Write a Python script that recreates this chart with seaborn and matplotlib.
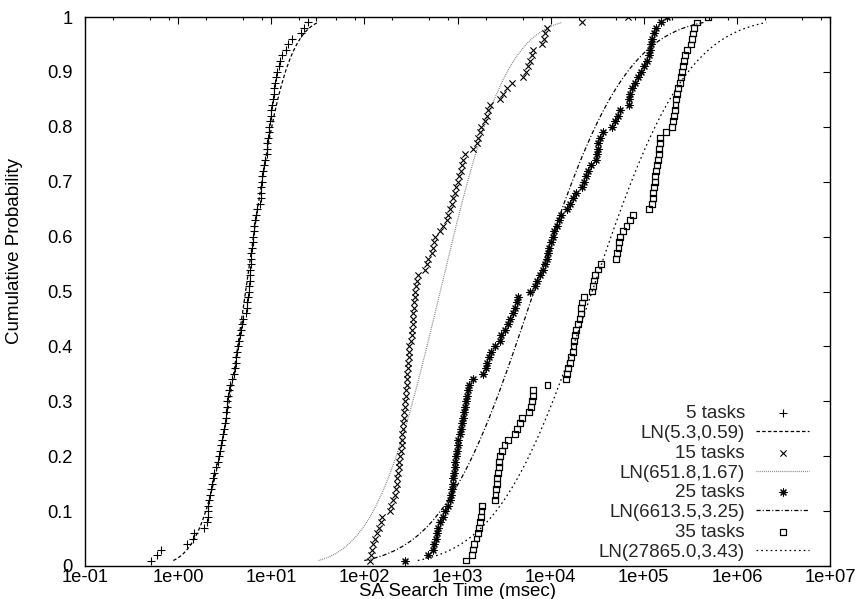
import numpy as np
import pandas as pd
import matplotlib
matplotlib.use("Agg")
import matplotlib.pyplot as plt
import seaborn as sns
from matplotlib.ticker import FixedLocator, FixedFormatter, LogLocator, NullFormatter
from statistics import NormalDist

# ---- data (msec); cumulative probability = rank / n ----
tasks_5 = [0.51, 0.60, 0.65, 1.26, 1.46, 1.47, 1.90, 2.05, 2.07, 2.08,
           2.10, 2.15, 2.20, 2.25, 2.30, 2.35, 2.45, 2.55, 2.65, 2.75,
           2.82, 2.90, 2.98, 3.05, 3.12, 3.18, 3.24, 3.28, 3.32, 3.36,
           3.40, 3.48, 3.58, 3.75, 3.95, 4.05, 4.15, 4.22, 4.30, 4.40,
           4.50, 4.62, 4.75, 4.85, 4.95, 5.35, 5.45, 5.55, 5.65, 5.75,
           5.80, 5.85, 5.90, 5.95, 6.00, 6.05, 6.10, 6.20, 6.30, 6.40,
           6.50, 6.60, 6.75, 6.90, 7.10, 7.60, 7.70, 7.80, 7.85, 7.95,
           8.05, 8.20, 8.35, 8.55, 8.90, 9.00, 9.10, 9.25, 9.40, 9.55,
           9.70, 9.85, 10.0, 10.2, 10.4, 10.6, 10.8, 11.0, 11.3, 11.6,
           12.0, 12.4, 13.0, 14.3, 15.2, 16.5, 21.0, 22.5, 25.0, 30.5]

tasks_15 = [115, 117, 120, 124, 130, 137, 143, 150, 156, 189,
            195, 203, 214, 218, 222, 226, 230, 234, 238, 242,
            250, 252, 254, 256, 258, 261, 264, 267, 270, 272,
            280, 283, 286, 288, 290, 293, 296, 299, 302, 305,
            320, 323, 326, 329, 332, 336, 340, 344, 348, 353,
            358, 365, 380, 449, 465, 485, 526, 545, 560, 573,
            650, 700, 770, 800, 830, 865, 900, 940, 975, 1010,
            1045, 1080, 1115, 1150, 1190, 1480, 1600, 1680, 1750, 1810,
            1980, 2060, 2150, 2240, 2880, 3100, 3380, 3810, 5080, 5400,
            5700, 6000, 6280, 6530, 8140, 8500, 8800, 9140, 21600, 68500]

tasks_25 = [274, 488, 545, 565, 585, 605, 625, 650, 700, 740,
            795, 840, 855, 870, 885, 900, 915, 930, 950, 965,
            985, 1000, 1020, 1060, 1090, 1120, 1150, 1180, 1210, 1240,
            1270, 1300, 1340, 1480, 1860, 2000, 2070, 2170, 2270, 2500,
            2880, 2950, 3250, 3490, 3700, 3900, 4100, 4330, 4450, 6030,
            6780, 7100, 7640, 8200, 8800, 9200, 9400, 9620, 10000, 10500,
            11000, 11600, 12200, 13000, 15000, 16200, 17500, 18500, 21600, 23000,
            24000, 25200, 27000, 31000, 31500, 32000, 32500, 33500, 36200, 45500,
            49000, 53000, 56000, 68600, 70000, 72000, 75000, 80000, 86000, 94000,
            100000, 109000, 113000, 116000, 119000, 123000, 129000, 136000, 155000, 179000]

tasks_35 = [1230, 1420, 1480, 1500, 1600, 1650, 1700, 1740, 1780, 1810,
            1850, 2530, 2560, 2600, 2640, 2680, 2720, 2760, 2820, 2880,
            2990, 3200, 3500, 4100, 4400, 4650, 4880, 5800, 6100, 6300,
            6450, 6530, 9260, 14500, 15000, 15500, 16000, 16500, 17200, 17600,
            18000, 18400, 18700, 19800, 20400, 21000, 21300, 21600, 22800, 27700,
            28500, 29300, 30100, 32000, 35000, 50800, 52000, 53500, 54500, 55200,
            60000, 65200, 71000, 77000, 113000, 123000, 125000, 127000, 129000, 131000,
            132500, 134000, 140000, 143000, 145000, 147000, 149000, 151000, 172000, 203000,
            207000, 211000, 215000, 219000, 223000, 227000, 231000, 245000, 252000, 258000,
            265000, 272000, 280000, 290000, 325000, 333000, 341000, 350000, 370000, 490000]

series_values = [tasks_5, tasks_15, tasks_25, tasks_35]
series_labels = ["5 tasks", "15 tasks", "25 tasks", "35 tasks"]

# lognormal fits LN(median, variance of ln t)
fit_median = [5.3, 651.8, 6613.5, 27865.0]
fit_var = [0.59, 1.67, 3.25, 3.43]
fit_labels = ["LN(5.3,0.59)", "LN(651.8,1.67)", "LN(6613.5,3.25)", "LN(27865.0,3.43)"]

x_ticks = [1e-1, 1e0, 1e1, 1e2, 1e3, 1e4, 1e5, 1e6, 1e7]
x_tick_labels = ["1e-01", "1e+00", "1e+01", "1e+02", "1e+03", "1e+04", "1e+05", "1e+06", "1e+07"]
y_ticks = [0, 0.1, 0.2, 0.3, 0.4, 0.5, 0.6, 0.7, 0.8, 0.9, 1.0]
y_tick_labels = ["0", "0.1", "0.2", "0.3", "0.4", "0.5", "0.6", "0.7", "0.8", "0.9", "1"]

# ---- styles ----
sns.set_style("white")
plt.rcParams['font.family'] = ['Liberation Sans', 'DejaVu Sans']
plt.rcParams['lines.scale_dashes'] = False
FS = 13.5
TFS = 13.2

markers = ['+', 'x', (8, 2, 0), 's']
marker_sizes = [26, 20, 26, 18]
line_styles = [(0, (2.5, 1.6)), (0, (0.6, 0.8)), (0, (3.0, 1.5, 0.8, 1.5)), (0, (1.2, 2.2))]
line_colors = ['#000000', '#777777', '#000000', '#000000']

fig = plt.figure(figsize=(8.56, 5.99), dpi=100)
ax = fig.add_axes([85 / 856, 33 / 599, 745 / 856, 549 / 599])

nd = NormalDist()
for vals, lab, mk, ms, med, var, flab, ls, lc in zip(series_values, series_labels, markers,
                                                      marker_sizes, fit_median, fit_var,
                                                      fit_labels, line_styles, line_colors):
    t = np.sort(np.asarray(vals, dtype=float))
    df = pd.DataFrame({"t": t, "p": np.arange(1, len(t) + 1) / len(t)})
    if mk == 's':
        sns.scatterplot(data=df, x="t", y="p", marker=mk, s=ms, facecolors='none',
                        edgecolor='k', linewidth=0.9, ax=ax, label=lab, zorder=3)
    else:
        sns.scatterplot(data=df, x="t", y="p", marker=mk, s=ms, color='k',
                        linewidth=0.8, ax=ax, label=lab, zorder=3)
    p = np.linspace(0.01, 0.99, 400)
    q = med * np.exp(np.sqrt(var) * np.array([nd.inv_cdf(v) for v in p]))
    fdf = pd.DataFrame({"t": q, "p": p})
    sns.lineplot(data=fdf, x="t", y="p", color=lc, linestyle=ls, linewidth=0.9,
                 estimator=None, sort=False, ax=ax, label=flab, zorder=2)

ax.set_xscale('log')
ax.set_xlim(1e-1, 1e7)
ax.set_ylim(0, 1)
ax.xaxis.set_major_locator(FixedLocator(x_ticks))
ax.xaxis.set_major_formatter(FixedFormatter(x_tick_labels))
ax.xaxis.set_minor_locator(LogLocator(base=10, subs=(2.0, 5.0, 8.0), numticks=50))
ax.xaxis.set_minor_formatter(NullFormatter())
ax.yaxis.set_major_locator(FixedLocator(y_ticks))
ax.yaxis.set_major_formatter(FixedFormatter(y_tick_labels))

ax.tick_params(which='both', direction='in', top=True, right=True, color='k',
               labelsize=TFS, labelcolor='k')
ax.tick_params(which='major', length=5, width=0.8)
ax.tick_params(which='minor', length=2.5, width=0.8)
ax.tick_params(axis='x', which='major', pad=2)
ax.tick_params(axis='y', which='major', pad=9)
for sp in ax.spines.values():
    sp.set_color('k')
    sp.set_linewidth(1.0)
    sp.set_visible(True)

ax.set_xlabel("SA Search Time (msec)", fontsize=FS, color='k')
ax.xaxis.set_label_coords(0.5, (566 - 596) / 549)
ax.xaxis.label.set_va('baseline')
ax.set_ylabel("Cumulative Probability", fontsize=FS, color='k')
ax.yaxis.set_label_coords((15 - 85) / 745, (566 - 251) / 549)
ax.yaxis.label.set_va('center')

h, l = ax.get_legend_handles_labels()
leg = ax.legend(h, l, loc='lower right', bbox_to_anchor=(0.972, 0.010), frameon=False,
                markerfirst=False, handlelength=2.83, handletextpad=0.6,
                labelspacing=0.14, borderpad=0, borderaxespad=0, fontsize=FS)

fig.savefig("out.png", dpi=100)
